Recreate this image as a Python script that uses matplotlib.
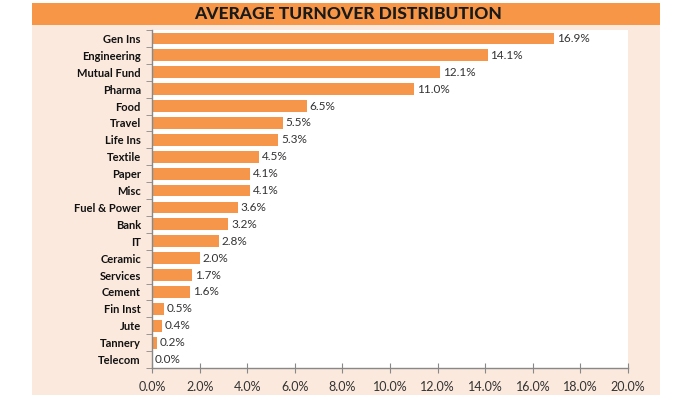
import numpy as np
import matplotlib
matplotlib.use("Agg")
from matplotlib import pyplot as plt
from matplotlib.patches import Rectangle

sectors = ["Gen Ins", "Engineering", "Mutual Fund", "Pharma", "Food", "Travel",
           "Life Ins", "Textile", "Paper", "Misc", "Fuel & Power", "Bank", "IT",
           "Ceramic", "Services", "Cement", "Fin Inst", "Jute", "Tannery", "Telecom"]
shares = [16.9, 14.1, 12.1, 11.0, 6.5, 5.5, 5.3, 4.5, 4.1, 4.1, 3.6, 3.2, 2.8,
          2.0, 1.7, 1.6, 0.5, 0.4, 0.2, 0.0]
xticks = [0, 2, 4, 6, 8, 10, 12, 14, 16, 18, 20]

plt.rcParams['font.family'] = ['Lato', 'DejaVu Sans']

fig = plt.figure(figsize=(7, 4), dpi=100)
fig.patch.set_facecolor("white")

# peach panel and orange title bar
fig.add_artist(Rectangle((32/700, 1-395/400), 628/700, 370/400,
                         transform=fig.transFigure, facecolor="#fbe9dd",
                         edgecolor="none", zorder=0))
fig.add_artist(Rectangle((32/700, 1-25/400), 628/700, 22/400,
                         transform=fig.transFigure, facecolor="#f79646",
                         edgecolor="none", zorder=0))
fig.text(348/700, 1-14/400, "AVERAGE TURNOVER DISTRIBUTION", ha="center",
         va="center", fontsize=12.5, fontweight="black", color="#1a1a1a")

ax = fig.add_axes([152/700, 1-368/400, 476/700, 338/400])
ax.set_facecolor("white")

y = np.arange(len(sectors))
ax.barh(y, shares, height=0.7, color="#f5964a", zorder=2)
for yi, v in zip(y, shares):
    ax.text(v + 0.12, yi, f"{v:.1f}%", va="center", ha="left",
            fontsize=8.5, color="#333333")

ax.set_ylim(len(sectors) - 0.55, -0.45)
ax.set_xlim(0, 20)
ax.set_yticks(y)
ax.set_yticklabels(sectors, fontsize=8, fontweight="bold", color="#111111")
ax.set_yticks(np.arange(-0.5, len(sectors), 1), minor=True)
ax.tick_params(axis="y", which="major", length=0, pad=8)
ax.tick_params(axis="y", which="minor", length=4, color="#888888", direction="out")

ax.set_xticks(xticks)
ax.set_xticklabels([f"{t:.1f}%" for t in xticks], fontsize=9, color="#333333")
ax.tick_params(axis="x", length=7, direction="inout", color="#888888", pad=6)

for s in ["top", "right"]:
    ax.spines[s].set_visible(False)
for s in ["left", "bottom"]:
    ax.spines[s].set_color("#888888")
    ax.spines[s].set_linewidth(1)

plt.savefig("out.png", dpi=100)
plt.close()
